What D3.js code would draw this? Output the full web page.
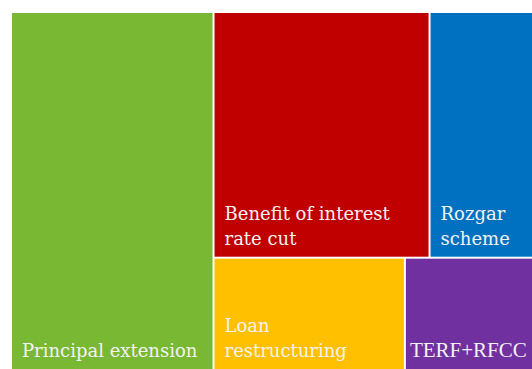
<!DOCTYPE html>
<html lang="en">
<head>
	<meta http-equiv="Content-type" content="text/html" charset="UTF-8">
	<script src="https://d3js.org/d3.v7.min.js"></script>
	<style>
	html, body {
		margin: 0;
		padding: 0;
		background: #fff;
	}
	.tile-label {
		font-family: 'DejaVu Serif', serif;
		font-size: 18px;
		fill: #f2f2f2;
	}
	.tile-label.narrow {
		font-family: 'Liberation Serif', serif;
		font-size: 21px;
	}
	</style>
</head>
<body>
	<div id="treemap"></div>

	<script type="text/javascript">

	// Data
	var categories = ["Principal extension", "Benefit of interest rate cut", "Rozgar scheme", "Loan restructuring", "TERF+RFCC"];
	var values = [38.8, 28.4, 13.6, 11.5, 7.7];
	// which block each tile sits in: 0 = left column, 1 = upper row, 2 = lower row
	var blocks = [0, 1, 1, 2, 2];
	var labelLines = [["Principal extension"], ["Benefit of interest", "rate cut"], ["Rozgar", "scheme"], ["Loan", "restructuring"], ["TERF+RFCC"]];
	var colors = ["#79b832", "#c00000", "#0070c0", "#ffc000", "#7030a0"];

	var width = 532,
		height = 369,
		margin = {top: 13, right: 0, bottom: 0, left: 12};

	// build the nested table the treemap needs
	function leaf(i) {
		return {name: categories[i], value: values[i], idx: i};
	}
	var rows = [1, 2].map(function(b) {
		return {name: "row" + b, children: d3.range(categories.length).filter(function(i) { return blocks[i] === b; }).map(leaf)};
	});
	var tree = {
		name: "root",
		children: [leaf(0), {name: "rest", children: rows}]
	};

	var root = d3.hierarchy(tree)
		.sum(function(d) { return d.children ? 0 : d.value; });

	d3.treemap()
		.tile(d3.treemapSliceDice)
		.size([width - margin.left - margin.right, height - margin.top - margin.bottom])
		.paddingInner(2)(root);

	var svg = d3.select('#treemap')
		.append('svg')
		.attr('width', width)
		.attr('height', height);

	var g = svg.append('g')
		.attr('transform', 'translate(' + margin.left + ',' + margin.top + ')');

	var cell = g.selectAll('.cell')
		.data(root.leaves())
		.enter().append('g')
		.attr('class', 'cell')
		.attr('transform', function(d) { return 'translate(' + d.x0 + ',' + d.y0 + ')'; });

	cell.append('rect')
		.attr('width', function(d) { return d.x1 - d.x0; })
		.attr('height', function(d) { return d.y1 - d.y0; })
		.style('fill', function(d) { return colors[d.data.idx]; });

	// labels sit at the bottom-left of each tile
	var lineHeight = 25;
	cell.each(function(d) {
		var lines = labelLines[d.data.idx];
		var h = d.y1 - d.y0;
		var w = d.x1 - d.x0;
		var sel = d3.select(this).selectAll('text')
			.data(lines)
			.enter().append('text')
			.attr('class', 'tile-label')
			.attr('x', 10)
			.attr('y', function(t, i) { return h - 12 - (lines.length - 1 - i) * lineHeight; })
			.text(function(t) { return t; });
		// long label in a small tile: tighter font and padding, like the original
		sel.each(function() {
			if (this.getComputedTextLength() > w - 20) {
				d3.select(this).classed('narrow', true).attr('x', 4);
			}
		});
	});

	</script>
</body>
</html>
